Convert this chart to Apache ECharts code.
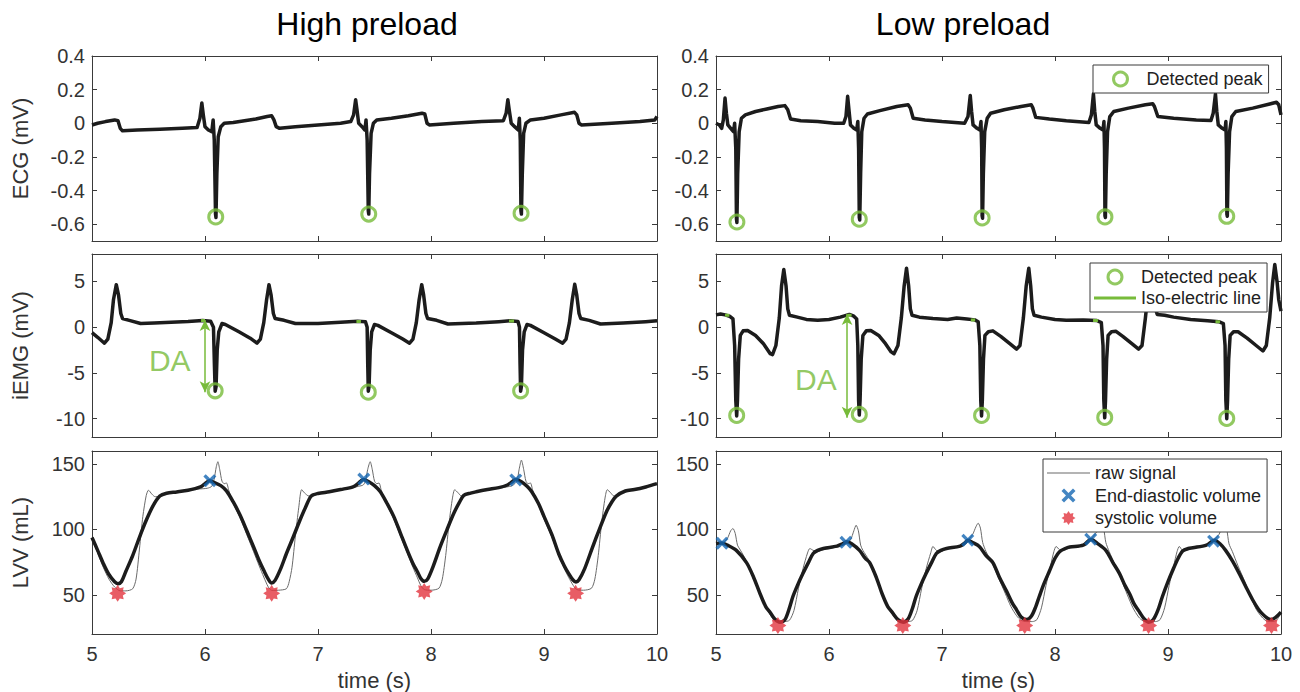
<!DOCTYPE html>
<html><head><meta charset="utf-8">
<script src="https://cdn.jsdelivr.net/npm/echarts@6/dist/echarts.min.js"></script>
<style>html,body{margin:0;padding:0;background:#fff}#c{width:1300px;height:692px}</style>
</head><body><div id="c"></div>
<script>
// ---------------- DATA (time s, value) ----------------
const panelTitles = ['High preload', 'Low preload'];
const rowNames = ['ECG (mV)', 'iEMG (mV)', 'LVV (mL)'];
const timeTicks = [5, 6, 7, 8, 9, 10];
const ecgTicks = [-0.6, -0.4, -0.2, 0, 0.2, 0.4];
const emgTicks = [-10, -5, 0, 5];
const lvvTicks = [50, 100, 150];

const ecgHigh = [[5.00,-0.01],[5.05,0.0],[5.12,0.01],[5.20,0.02],[5.23,0.015],[5.25,-0.03],[5.27,-0.045],[5.40,-0.04],[5.60,-0.035],[5.80,-0.03],[5.93,-0.025],[5.955,0.03],[5.972,0.12],[5.985,0.05],[6.0,-0.02],[6.03,-0.04],[6.06,-0.05],[6.072,0.02],[6.082,-0.1],[6.093,-0.54],[6.097,-0.56],[6.105,-0.3],[6.117,-0.08],[6.14,-0.02],[6.17,0.0],[6.25,0.005],[6.35,0.015],[6.45,0.025],[6.55,0.04],[6.59,0.045],[6.61,0.02],[6.63,-0.02],[6.66,-0.03],[6.8,-0.02],[7.0,-0.01],[7.2,0.0],[7.29,0.01],[7.315,0.05],[7.333,0.14],[7.345,0.08],[7.36,0.0],[7.39,-0.02],[7.415,-0.04],[7.425,0.02],[7.435,-0.1],[7.445,-0.52],[7.449,-0.54],[7.456,-0.3],[7.47,-0.06],[7.49,0.0],[7.52,0.02],[7.65,0.03],[7.8,0.045],[7.92,0.06],[7.945,0.055],[7.965,0.0],[7.985,-0.01],[8.2,0.0],[8.45,0.01],[8.64,0.015],[8.665,0.06],[8.68,0.14],[8.692,0.08],[8.71,0.0],[8.74,-0.02],[8.772,-0.04],[8.782,0.03],[8.79,-0.1],[8.796,-0.52],[8.8,-0.54],[8.808,-0.3],[8.82,-0.06],[8.84,0.0],[8.88,0.02],[9.0,0.03],[9.15,0.05],[9.27,0.065],[9.29,0.05],[9.31,0.0],[9.33,-0.01],[9.6,0.0],[9.85,0.01],[9.98,0.02],[10.0,0.04]];

const ecgLow = [[5.00,0.0],[5.03,-0.01],[5.05,-0.03],[5.065,0.02],[5.08,0.15],[5.092,0.06],[5.105,-0.01],[5.13,-0.03],[5.155,-0.05],[5.165,0.0],[5.175,-0.15],[5.181,-0.57],[5.185,-0.59],[5.192,-0.3],[5.205,-0.05],[5.225,0.03],[5.26,0.05],[5.35,0.07],[5.45,0.085],[5.55,0.1],[5.61,0.105],[5.635,0.08],[5.66,0.025],[5.75,0.015],[5.9,0.01],[6.05,0.0],[6.13,0.0],[6.15,0.04],[6.165,0.16],[6.178,0.07],[6.19,-0.01],[6.22,-0.03],[6.245,-0.04],[6.255,0.01],[6.262,-0.15],[6.268,-0.56],[6.272,-0.575],[6.28,-0.3],[6.29,-0.05],[6.31,0.03],[6.34,0.055],[6.45,0.075],[6.6,0.1],[6.70,0.11],[6.72,0.09],[6.745,0.03],[6.85,0.02],[7.0,0.01],[7.2,0.0],[7.23,0.04],[7.25,0.165],[7.262,0.07],[7.275,-0.01],[7.31,-0.03],[7.335,-0.04],[7.345,0.01],[7.351,-0.15],[7.355,-0.55],[7.359,-0.565],[7.366,-0.3],[7.378,-0.05],[7.40,0.03],[7.43,0.06],[7.55,0.08],[7.7,0.1],[7.79,0.11],[7.805,0.09],[7.83,0.035],[7.95,0.025],[8.1,0.015],[8.3,0.005],[8.322,0.05],[8.34,0.175],[8.352,0.07],[8.365,-0.01],[8.40,-0.03],[8.425,-0.04],[8.433,0.01],[8.438,-0.15],[8.442,-0.55],[8.446,-0.56],[8.453,-0.3],[8.465,-0.05],[8.485,0.04],[8.52,0.07],[8.65,0.09],[8.8,0.11],[8.865,0.116],[8.88,0.1],[8.91,0.04],[9.05,0.03],[9.25,0.02],[9.38,0.016],[9.40,0.06],[9.42,0.175],[9.432,0.07],[9.445,-0.01],[9.48,-0.03],[9.505,-0.04],[9.512,0.01],[9.517,-0.15],[9.521,-0.54],[9.525,-0.553],[9.532,-0.3],[9.545,-0.05],[9.565,0.04],[9.6,0.07],[9.75,0.09],[9.9,0.115],[9.96,0.125],[9.98,0.11],[10.0,0.05]];

const emgHigh = [[5.0,-0.6],[5.05,-1.1],[5.11,-1.75],[5.14,-1.3],[5.17,0.5],[5.19,3.0],[5.215,4.65],[5.235,3.5],[5.255,1.5],[5.27,0.95],[5.33,0.75],[5.43,0.4],[5.55,0.45],[5.7,0.55],[5.85,0.62],[5.98,0.72],[6.05,0.65],[6.075,0.0],[6.083,-4.0],[6.09,-7.0],[6.098,-6.5],[6.108,-2.5],[6.122,-0.5],[6.15,0.4],[6.18,0.3],[6.3,-0.5],[6.4,-1.2],[6.46,-1.75],[6.49,-1.3],[6.52,0.5],[6.545,3.0],[6.566,4.65],[6.585,3.5],[6.605,1.5],[6.62,0.95],[6.7,0.75],[6.8,0.4],[7.0,0.4],[7.2,0.55],[7.35,0.65],[7.42,0.6],[7.435,0.0],[7.44,-4.0],[7.445,-7.0],[7.452,-6.5],[7.462,-2.5],[7.475,-0.5],[7.5,0.3],[7.53,0.2],[7.65,-0.6],[7.75,-1.3],[7.81,-1.75],[7.84,-1.3],[7.87,0.5],[7.895,3.0],[7.918,4.65],[7.935,3.5],[7.955,1.5],[7.97,0.95],[8.05,0.75],[8.15,0.35],[8.4,0.45],[8.6,0.6],[8.7,0.7],[8.77,0.62],[8.783,0.0],[8.788,-4.0],[8.793,-7.0],[8.8,-6.5],[8.81,-2.5],[8.825,-0.5],[8.85,0.3],[8.88,0.2],[9.0,-0.6],[9.1,-1.3],[9.165,-1.75],[9.195,-1.3],[9.225,0.5],[9.25,3.0],[9.272,4.7],[9.29,3.5],[9.31,1.5],[9.325,0.95],[9.4,0.75],[9.5,0.35],[9.7,0.45],[9.9,0.6],[10.0,0.7]];

const emgLow = [[5.0,1.35],[5.04,1.45],[5.08,1.35],[5.12,1.2],[5.15,0.9],[5.165,-2.0],[5.175,-8.0],[5.183,-9.7],[5.19,-8.0],[5.2,-3.5],[5.215,-0.9],[5.24,-0.4],[5.28,-0.35],[5.35,-0.9],[5.42,-1.8],[5.48,-2.9],[5.5,-3.0],[5.53,-2.0],[5.56,1.0],[5.58,4.5],[5.60,6.3],[5.62,4.5],[5.635,2.0],[5.65,1.3],[5.72,1.1],[5.8,0.85],[5.9,0.75],[6.0,0.85],[6.1,1.1],[6.18,1.4],[6.22,1.2],[6.245,0.9],[6.255,-2.0],[6.262,-8.0],[6.268,-9.6],[6.275,-8.0],[6.285,-3.5],[6.3,-0.9],[6.33,-0.4],[6.37,-0.35],[6.44,-0.9],[6.5,-1.8],[6.55,-2.7],[6.575,-2.9],[6.61,-2.0],[6.64,1.0],[6.665,4.5],[6.686,6.45],[6.705,4.5],[6.72,2.0],[6.735,1.3],[6.8,1.1],[6.92,0.95],[7.05,0.85],[7.13,1.0],[7.22,0.9],[7.29,0.8],[7.32,0.6],[7.335,-2.0],[7.343,-8.0],[7.35,-9.7],[7.357,-8.0],[7.367,-3.5],[7.38,-0.9],[7.41,-0.5],[7.45,-0.4],[7.52,-1.0],[7.6,-1.8],[7.66,-2.4],[7.69,-2.0],[7.72,1.0],[7.745,4.5],[7.768,6.45],[7.785,4.5],[7.8,2.0],[7.815,1.3],[7.88,1.1],[8.0,0.85],[8.1,0.75],[8.25,0.8],[8.37,0.73],[8.41,0.5],[8.425,-2.0],[8.432,-8.0],[8.44,-9.9],[8.447,-8.0],[8.457,-3.5],[8.47,-0.9],[8.5,-0.5],[8.54,-0.45],[8.6,-1.0],[8.68,-1.8],[8.74,-2.4],[8.77,-2.0],[8.8,1.0],[8.83,4.5],[8.855,6.4],[8.875,4.5],[8.89,2.0],[8.905,1.4],[8.97,1.3],[9.05,1.1],[9.2,0.85],[9.35,0.7],[9.45,0.6],[9.49,0.4],[9.505,-2.0],[9.512,-8.0],[9.52,-10.0],[9.527,-8.0],[9.537,-3.5],[9.55,-0.9],[9.58,-0.5],[9.62,-0.5],[9.7,-1.2],[9.78,-2.0],[9.84,-2.6],[9.87,-2.0],[9.9,1.0],[9.925,4.8],[9.945,6.85],[9.965,5.0],[9.98,3.0],[10.0,1.75]];

const lvvHigh = [[5.0,93.8],[5.05,84],[5.1,74],[5.15,65.5],[5.2,60],[5.23,58.5],[5.26,60],[5.3,68],[5.36,80],[5.42,94],[5.48,107],[5.54,118],[5.6,125.5],[5.66,127.7],[5.75,128.7],[5.85,130],[5.96,132.6],[6.0,135],[6.04,137.2],[6.08,136],[6.14,133.5],[6.19,129.5],[6.25,121],[6.31,111],[6.37,99],[6.43,86.6],[6.48,76],[6.52,68.7],[6.56,62],[6.59,59],[6.62,61],[6.67,70],[6.72,81.4],[6.78,94],[6.84,107],[6.89,117],[6.94,125.5],[7.0,127.5],[7.1,128.8],[7.2,130.5],[7.31,132.6],[7.36,135.5],[7.40,138.2],[7.45,136.5],[7.50,133.5],[7.55,129],[7.61,120],[7.67,110],[7.73,97],[7.79,84],[7.84,74],[7.88,67.6],[7.91,62.5],[7.94,60.3],[7.97,62],[8.02,72],[8.08,86.5],[8.14,99.5],[8.2,112],[8.25,120.5],[8.29,126],[8.35,127.8],[8.40,128.8],[8.5,130.5],[8.6,132],[8.67,133.8],[8.71,136],[8.75,138.2],[8.8,136.5],[8.85,133],[8.89,129],[8.95,120],[9.0,110],[9.07,96],[9.13,81.4],[9.18,72],[9.22,66],[9.255,61.5],[9.283,59.8],[9.31,61.5],[9.36,70],[9.43,86.5],[9.49,100],[9.55,113],[9.6,121],[9.64,125.5],[9.72,129.4],[9.8,130.5],[9.9,132.5],[10.0,135]];

const lvvHighRaw = [[5.0,93],[5.05,82],[5.1,71],[5.15,62],[5.2,56],[5.25,53],[5.3,53],[5.36,54.6],[5.39,62],[5.42,85],[5.45,110],[5.48,126],[5.5,130],[5.53,127],[5.56,125],[5.6,125.5],[5.66,127.7],[5.75,128.7],[5.85,130],[5.96,131],[6.02,131.5],[6.06,133],[6.08,138],[6.10,148],[6.114,151.8],[6.13,146],[6.15,137],[6.17,135],[6.19,135.5],[6.21,130],[6.25,120],[6.31,109],[6.37,96],[6.43,83],[6.48,72],[6.52,63.6],[6.56,56],[6.59,53.4],[6.65,53.5],[6.72,54.6],[6.745,60],[6.77,71],[6.80,95],[6.83,117],[6.855,130.4],[6.88,128],[6.92,125.5],[6.96,126.5],[7.0,127.5],[7.1,128.8],[7.2,130.5],[7.31,132],[7.36,133],[7.40,134],[7.42,137],[7.44,146],[7.462,151.8],[7.48,146],[7.50,137],[7.52,135],[7.54,135.5],[7.56,130],[7.61,119],[7.67,108],[7.73,95],[7.79,82],[7.84,71],[7.88,63],[7.91,57],[7.94,54],[8.0,53.5],[8.07,55],[8.1,62],[8.13,80],[8.16,105],[8.19,124],[8.21,130.4],[8.24,128],[8.27,125.5],[8.31,126.5],[8.35,127.8],[8.4,128.8],[8.5,130.5],[8.6,131.5],[8.67,132.5],[8.72,133.5],[8.76,137],[8.78,146],[8.80,153],[8.82,146],[8.84,137],[8.86,135],[8.88,135.5],[8.90,130],[8.95,119],[9.0,108],[9.07,94],[9.13,80],[9.18,70],[9.22,63],[9.26,57],[9.29,54],[9.35,53.5],[9.42,55],[9.45,62],[9.48,80],[9.51,105],[9.54,124],[9.56,130.4],[9.59,128],[9.62,125.5],[9.66,126.5],[9.72,129],[9.8,130.5],[9.9,132.5],[10.0,134.5]];

const lvvLow = [[5.0,89.2],[5.05,89.6],[5.1,88],[5.18,84],[5.27,74.6],[5.33,64],[5.39,50.8],[5.44,41],[5.48,36.5],[5.52,31.5],[5.566,29],[5.61,31],[5.65,40],[5.68,48.5],[5.72,57],[5.77,66.4],[5.82,75],[5.86,81.6],[5.9,84],[5.95,85.4],[6.07,87.2],[6.12,89],[6.156,90.5],[6.2,89],[6.27,84],[6.32,78],[6.36,74.6],[6.42,63],[6.47,50.8],[6.52,41],[6.56,36.5],[6.61,31],[6.656,29],[6.70,31.5],[6.74,40],[6.77,48.5],[6.81,57],[6.86,66.4],[6.91,75],[6.95,81.6],[6.99,84],[7.04,85.4],[7.16,87.2],[7.20,89.5],[7.23,91.7],[7.27,90],[7.33,87],[7.39,80],[7.45,74.6],[7.51,63],[7.57,53],[7.62,44],[7.66,38.5],[7.70,33],[7.747,31],[7.79,33.5],[7.83,41],[7.86,48.5],[7.9,58],[7.95,68],[8.0,78],[8.04,83],[8.09,85.4],[8.13,86.5],[8.25,88],[8.32,92.2],[8.38,89],[8.45,84],[8.51,75],[8.57,66.4],[8.62,57],[8.66,50.8],[8.70,43],[8.75,36.5],[8.79,31.5],[8.83,29],[8.87,31],[8.91,38],[8.95,48.5],[9.0,60],[9.04,68.4],[9.09,78],[9.13,83.5],[9.18,85.4],[9.22,86],[9.34,88],[9.41,91.7],[9.46,89],[9.51,84],[9.57,76],[9.63,66.4],[9.69,56],[9.75,46],[9.80,39],[9.84,35],[9.88,32],[9.91,31],[9.95,32.5],[10.0,36.7]];

const lvvLowRaw = [[5.0,88],[5.05,89],[5.1,93],[5.13,99],[5.15,100.7],[5.17,97],[5.19,88],[5.21,85],[5.25,79],[5.3,70],[5.36,58],[5.42,45],[5.47,36],[5.51,31],[5.55,29.5],[5.6,29.5],[5.65,30.5],[5.69,38],[5.73,55],[5.77,70],[5.81,82],[5.83,85.4],[5.86,84],[5.9,83],[5.95,84.5],[6.07,86.5],[6.14,88.5],[6.19,92],[6.22,99],[6.24,103.2],[6.26,99],[6.28,88],[6.30,84],[6.35,77],[6.41,65],[6.46,53],[6.51,42],[6.56,35],[6.6,31],[6.64,29.5],[6.7,29.5],[6.74,30.5],[6.78,38],[6.82,55],[6.86,70],[6.9,82],[6.92,87],[6.95,84],[6.99,83],[7.04,85],[7.16,87],[7.22,91],[7.27,96],[7.30,102],[7.32,104.8],[7.34,101],[7.36,90],[7.39,83],[7.44,75],[7.50,63],[7.56,51],[7.61,41],[7.66,34],[7.70,30.5],[7.75,29.5],[7.8,29.5],[7.84,31],[7.88,40],[7.92,57],[7.96,72],[7.99,83],[8.01,87],[8.04,84.5],[8.08,84],[8.13,86],[8.25,88],[8.31,92],[8.36,97],[8.39,102],[8.41,104.5],[8.43,101],[8.45,90],[8.48,83],[8.53,73],[8.59,61],[8.64,50],[8.69,40],[8.74,33],[8.78,30],[8.83,29.5],[8.89,29.5],[8.93,31],[8.97,40],[9.01,57],[9.05,72],[9.08,83],[9.1,87],[9.13,84],[9.18,84.5],[9.22,86],[9.34,87.5],[9.40,91],[9.45,96],[9.48,102],[9.50,104],[9.52,100],[9.54,89],[9.57,83],[9.62,72],[9.68,60],[9.73,49],[9.78,39],[9.83,33],[9.87,30],[9.92,29.5],[9.96,30.5],[10.0,36]];

const ecgPeaksHigh = [[6.095,-0.557],[7.449,-0.54],[8.797,-0.535]];
const ecgPeaksLow = [[5.185,-0.587],[6.268,-0.57],[7.355,-0.563],[8.442,-0.557],[9.52,-0.553]];
const emgPeaksHigh = [[6.09,-6.95],[7.445,-7.1],[8.793,-6.95]];
const emgPeaksLow = [[5.183,-9.64],[6.268,-9.53],[7.35,-9.64],[8.44,-9.86],[9.52,-9.97]];
// iso-electric segments: [tStart, tEnd, level]
const isoHigh = [[5.965,6.0,0.72],[7.34,7.38,0.62],[8.69,8.735,0.68]];
const isoLow = [[5.08,5.118,1.31],[6.165,6.2,1.31],[7.255,7.293,0.8],[8.337,8.38,0.73],[9.42,9.46,0.6]];
// DA arrows: [t, top, bottom]; DA labels: [t, v]
const daArrowHigh = [6.0, 0.8, -7.1];
const daArrowLow = [6.16, 1.45, -9.9];
const daLabelHigh = [5.688, -3.64];
const daLabelLow = [5.884, -5.71];
const edvHigh = [[6.043,137.3],[7.405,138.5],[8.75,137.9]];
const esvHigh = [[5.227,51.1],[6.59,51.1],[7.94,52.6],[9.28,51.1]];
const edvLow = [[5.053,89.4],[6.15,90.2],[7.228,91.7],[8.316,92.5],[9.403,91.0]];
const esvLow = [[5.548,26.5],[6.653,26.5],[7.732,26.5],[8.828,26.5],[9.916,26.5]];

// ---------------- STYLE / LAYOUT ----------------
const FONT = "'Liberation Sans', Arial, Helvetica, sans-serif";
const AXC = '#3a3a3a', LBL = '#333333';
const SIG = '#1c1c1c', GREEN = '#77bb3a', BLUE = '#1467b3', RED = '#e2343f', RAW = '#6a6a6a';
const XPATH = 'path://M0,18L18,0L50,32L82,0L100,18L68,50L100,82L82,100L50,68L18,100L0,82L32,50Z';
const STAR = 'path://M50,0L62.6,19.5L85.4,14.6L80.5,37.4L100,50L80.5,62.6L85.4,85.4L62.6,80.5L50,100L37.4,80.5L14.6,85.4L19.5,62.6L0,50L19.5,37.4L14.6,14.6L37.4,19.5Z';

const colLeft = [92, 716], colWidth = 565;
const rowTop = [56, 254, 451], rowHeight = [185, 183, 183];
const yCfg = [
  {min: -0.7, max: 0.4, ticks: ecgTicks, fmt: v => String(Math.round(v * 10) / 10)},
  {min: -12, max: 8, ticks: emgTicks, fmt: v => String(v)},
  {min: 20, max: 160, ticks: lvvTicks, fmt: v => String(v)}
];

const grid = [], xAxis = [], yAxis = [];
for (let r = 0; r < 3; r++) for (let c = 0; c < 2; c++) {
  const i = r * 2 + c;
  grid.push({left: colLeft[c], top: rowTop[r], width: colWidth, height: rowHeight[r], containLabel: false});
  const common = {type: 'value', gridIndex: i, axisLine: {show: true, onZero: false, lineStyle: {color: AXC, width: 1}},
    splitLine: {show: false}, axisPointer: {show: false}};
  xAxis.push(Object.assign({}, common, {position: 'bottom', min: 5, max: 10, interval: 1,
    axisTick: {show: true, inside: true, length: 5, lineStyle: {color: AXC}},
    axisLabel: {show: r === 2, fontSize: 20, color: LBL, fontFamily: FONT, margin: 10},
    name: r === 2 ? 'time (s)' : '', nameLocation: 'middle', nameGap: 35,
    nameTextStyle: {fontSize: 22, color: LBL, fontFamily: FONT}}));
  xAxis.push(Object.assign({}, common, {position: 'top', min: 5, max: 10, interval: 1,
    axisTick: {show: true, inside: true, length: 5, lineStyle: {color: AXC}}, axisLabel: {show: false}}));
  const y = yCfg[r];
  yAxis.push(Object.assign({}, common, {position: 'left', min: y.min, max: y.max,
    axisTick: {show: true, inside: true, length: 5, customValues: y.ticks, lineStyle: {color: AXC}},
    axisLabel: {show: true, customValues: y.ticks, formatter: y.fmt, fontSize: 20, color: LBL, fontFamily: FONT, margin: 7},
    name: c === 0 ? rowNames[r] : '', nameLocation: 'middle', nameGap: 61,
    nameTextStyle: {fontSize: 22, color: LBL, fontFamily: FONT}}));
  yAxis.push(Object.assign({}, common, {position: 'right', min: y.min, max: y.max,
    axisTick: {show: true, inside: true, length: 5, customValues: y.ticks, lineStyle: {color: AXC}},
    axisLabel: {show: false}}));
}

const series = [];
function ax(i) { return {xAxisIndex: 2 * i, yAxisIndex: 2 * i}; }
function sigLine(i, data, extra) {
  return Object.assign({type: 'line', data: data, showSymbol: false, symbol: 'none', silent: true,
    lineStyle: {color: SIG, width: 3.5, join: 'round'}, itemStyle: {color: SIG}, z: 3}, ax(i), extra || {});
}
function peaks(i, data) {
  return Object.assign({type: 'scatter', name: 'Detected peak', data: data, symbol: 'circle', symbolSize: 14, silent: true,
    itemStyle: {color: 'rgba(0,0,0,0)', borderColor: GREEN, borderWidth: 3}, z: 5}, ax(i));
}
function isoSeg(i, segs) {
  segs.forEach(s => series.push(Object.assign({type: 'line', name: 'Iso-electric line', showSymbol: false, symbol: 'none', silent: true,
    data: [[s[0], s[2]], [s[1], s[2]]], color: GREEN, lineStyle: {color: GREEN, width: 3}, itemStyle: {color: GREEN}, z: 4}, ax(i))));
}
function daMark(arrow) {
  return {silent: true, symbol: ['arrow', 'arrow'], symbolSize: [8, 11], animation: false,
    lineStyle: {color: GREEN, width: 1.5, type: 'solid'}, itemStyle: {color: GREEN}, label: {show: false},
    data: [[{coord: [arrow[0], arrow[1]]}, {coord: [arrow[0], arrow[2]]}]]};
}
function daText(i, pos) {
  return Object.assign({type: 'scatter', data: [pos], symbol: 'circle', symbolSize: 1, silent: true,
    itemStyle: {color: 'rgba(0,0,0,0)'},
    label: {show: true, position: 'inside', formatter: 'DA', fontSize: 30, color: GREEN, fontFamily: FONT}, z: 6}, ax(i));
}
function markers(i, name, data, sym, size, color) {
  return Object.assign({type: 'scatter', name: name, data: data, symbol: sym, symbolSize: size, silent: true,
    itemStyle: {color: color}, z: 6}, ax(i));
}

// ECG
series.push(sigLine(0, ecgHigh), peaks(0, ecgPeaksHigh));
series.push(sigLine(1, ecgLow), peaks(1, ecgPeaksLow));
// iEMG
series.push(sigLine(2, emgHigh, {markLine: daMark(daArrowHigh)}), peaks(2, emgPeaksHigh), daText(2, daLabelHigh));
isoSeg(2, isoHigh);
series.push(sigLine(3, emgLow, {markLine: daMark(daArrowLow)}), peaks(3, emgPeaksLow), daText(3, daLabelLow));
isoSeg(3, isoLow);
// LVV
const rawStyle = {name: 'raw signal', color: RAW, lineStyle: {color: RAW, width: 1}, itemStyle: {color: RAW}, z: 2, smooth: 0.25};
series.push(sigLine(4, lvvHighRaw, rawStyle), sigLine(4, lvvHigh, {smooth: 0.3}));
series.push(markers(4, 'End-diastolic volume', edvHigh, XPATH, 13, BLUE), markers(4, 'systolic volume', esvHigh, STAR, 17, RED));
series.push(sigLine(5, lvvLowRaw, rawStyle), sigLine(5, lvvLow, {smooth: 0.3}));
series.push(markers(5, 'End-diastolic volume', edvLow, XPATH, 13, BLUE), markers(5, 'systolic volume', esvLow, STAR, 17, RED));

const legBase = {orient: 'vertical', selectedMode: false, itemWidth: 42, itemHeight: 14, borderColor: '#3a3a3a', borderWidth: 1,
  borderRadius: 0, backgroundColor: '#ffffff', textStyle: {fontSize: 18, color: '#222', fontFamily: FONT, lineHeight: 20}, z: 10};
const circleItem = () => ({name: 'Detected peak', icon: 'circle', itemStyle: {color: 'rgba(0,0,0,0)', borderColor: GREEN, borderWidth: 3}});
const legend = [
  Object.assign({}, legBase, {left: 1093, top: 65, padding: [4, 6, 4, 19], data: [circleItem()]}),
  Object.assign({}, legBase, {left: 1090, top: 263, padding: [4, 6, 4, 4], itemGap: 1, data: [circleItem(),
    {name: 'Iso-electric line', icon: 'path://M0,0H42V3H0Z', itemStyle: {color: GREEN, borderWidth: 0}}]}),
  Object.assign({}, legBase, {left: 1043, top: 459, padding: [4, 6, 4, 4], itemWidth: 43, itemGap: 2.5, data: [
    {name: 'raw signal', icon: 'path://M0,0H43V1H0Z', itemStyle: {color: RAW, borderWidth: 0}},
    {name: 'End-diastolic volume', icon: XPATH, itemStyle: {color: BLUE, borderWidth: 0}},
    {name: 'systolic volume', icon: STAR, itemStyle: {color: RED, borderWidth: 0}}]})
];

const title = [
  {text: panelTitles[0], left: 367, top: 8, textAlign: 'center', padding: 0, textStyle: {fontSize: 32, fontWeight: 'normal', color: '#000', fontFamily: FONT}},
  {text: panelTitles[1], left: 963, top: 8, textAlign: 'center', padding: 0, textStyle: {fontSize: 32, fontWeight: 'normal', color: '#000', fontFamily: FONT}}
];

const chart = echarts.init(document.getElementById('c'), null, {renderer: 'svg'});
chart.setOption({animation: false, backgroundColor: '#fff', textStyle: {fontFamily: FONT},
  title, grid, xAxis, yAxis, legend, series});
</script></body></html>
